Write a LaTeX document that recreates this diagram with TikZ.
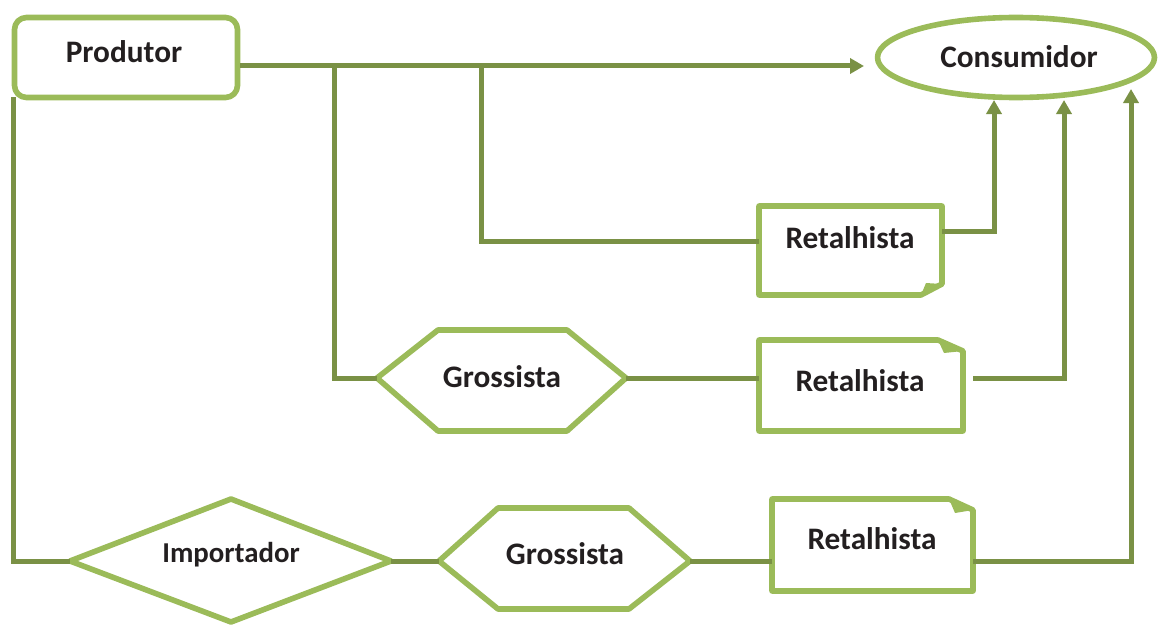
\documentclass[tikz,border=0pt]{standalone}
\usepackage{fontspec}
\setmainfont{Carlito}
\usetikzlibrary{arrows.meta,shapes.geometric}
\definecolor{lg}{HTML}{9BBB59}
\definecolor{ol}{HTML}{7A9145}
\definecolor{tx}{HTML}{231F20}
\begin{document}
\begin{tikzpicture}[x=1pt,y=-1pt,
  shapeline/.style={draw=lg,line width=5.6pt,line join=round},
  conn/.style={draw=ol,line width=5pt},
  arr/.style={conn,-{Triangle[length=14pt,width=15pt]}},
  lbl/.style={font=\bfseries\fontsize{31.3}{31.3}\selectfont,text=tx,inner sep=0pt},
  lbls/.style={font=\bfseries\fontsize{28.8}{28.8}\selectfont,text=tx,inner sep=0pt}]
\useasboundingbox (0,0) rectangle (1159,626);

% Produtor
\node[shapeline,rounded corners=12pt,minimum width=223pt,minimum height=80pt,inner sep=0pt] (prod) at (126,57.5) {};
\node[lbl] (prodt) at (124,52) {Produtor};

% Consumidor
\node[shapeline,ellipse,minimum width=277pt,minimum height=80pt,inner sep=0pt] (cons) at (1016,57.5) {};
\node[lbl] (const) at (1019,57) {Consumidor};

% Retalhista 1 (fold bottom-right)
\draw[shapeline] (759,206) -- (942,206) -- (942,284) -- (921,295) -- (759,295) -- cycle;
\fill[lg] (921,295) -- (926,283) -- (942,284) -- cycle;
\node[lbl] (r1) at (850,238) {Retalhista};
\coordinate (r1w) at (759,241);
\coordinate (r1e) at (942,231);

% Grossista 1
\draw[shapeline] (377,378) -- (438,330) -- (567,330) -- (626,378) -- (567,431) -- (438,431) -- cycle;
\node[lbl] (g1) at (502,377) {Grossista};
\coordinate (g1w) at (377,378);
\coordinate (g1e) at (626,378);

% Retalhista 2 (fold top-right)
\draw[shapeline] (759,340) -- (938,340) -- (963,351) -- (963,431) -- (759,431) -- cycle;
\fill[lg] (938,340) -- (944,353) -- (963,351) -- cycle;
\node[lbl] (r2) at (860,381) {Retalhista};
\coordinate (r2w) at (759,378);
\coordinate (r2e) at (973,378);

% Importador
\draw[shapeline] (70,561) -- (231,499) -- (391,561) -- (231,622) -- cycle;
\node[lbls] (imp) at (231,555) {Importador};
\coordinate (impw) at (70,561);
\coordinate (impe) at (391,561);

% Grossista 2
\draw[shapeline] (439,561) -- (498,508) -- (629,508) -- (690,561) -- (629,609) -- (498,609) -- cycle;
\node[lbl] (g2) at (565,554) {Grossista};
\coordinate (g2w) at (439,561);
\coordinate (g2e) at (690,561);

% Retalhista 3 (fold top-right)
\draw[shapeline] (772,499) -- (949,499) -- (973,510) -- (973,591) -- (772,591) -- cycle;
\fill[lg] (949,499) -- (955,513) -- (973,510) -- cycle;
\node[lbl] (r3) at (872,539) {Retalhista};
\coordinate (r3w) at (772,561);
\coordinate (r3e) at (973,561);

% connector coordinates
\coordinate (p1) at (240,66);
\coordinate (ctip) at (864,66);
\coordinate (j1) at (334,66);
\coordinate (j2) at (481,66);
\coordinate (pb) at (13,97);
\coordinate (c1) at (994,100);
\coordinate (c2) at (1064,100);
\coordinate (c3) at (1131,89);

% connectors
\draw[arr] (p1) -- (ctip);
\draw[conn] (j1) |- (g1w);
\draw[conn] (j2) |- (r1w);
\draw[arr] (r1e) -| (c1);
\draw[conn] (g1e) -- (r2w);
\draw[arr] (r2e) -| (c2);
\draw[conn] (pb) |- (impw);
\draw[conn] (impe) -- (g2w);
\draw[conn] (g2e) -- (r3w);
\draw[arr] (r3e) -| (c3);
\end{tikzpicture}
\end{document}
